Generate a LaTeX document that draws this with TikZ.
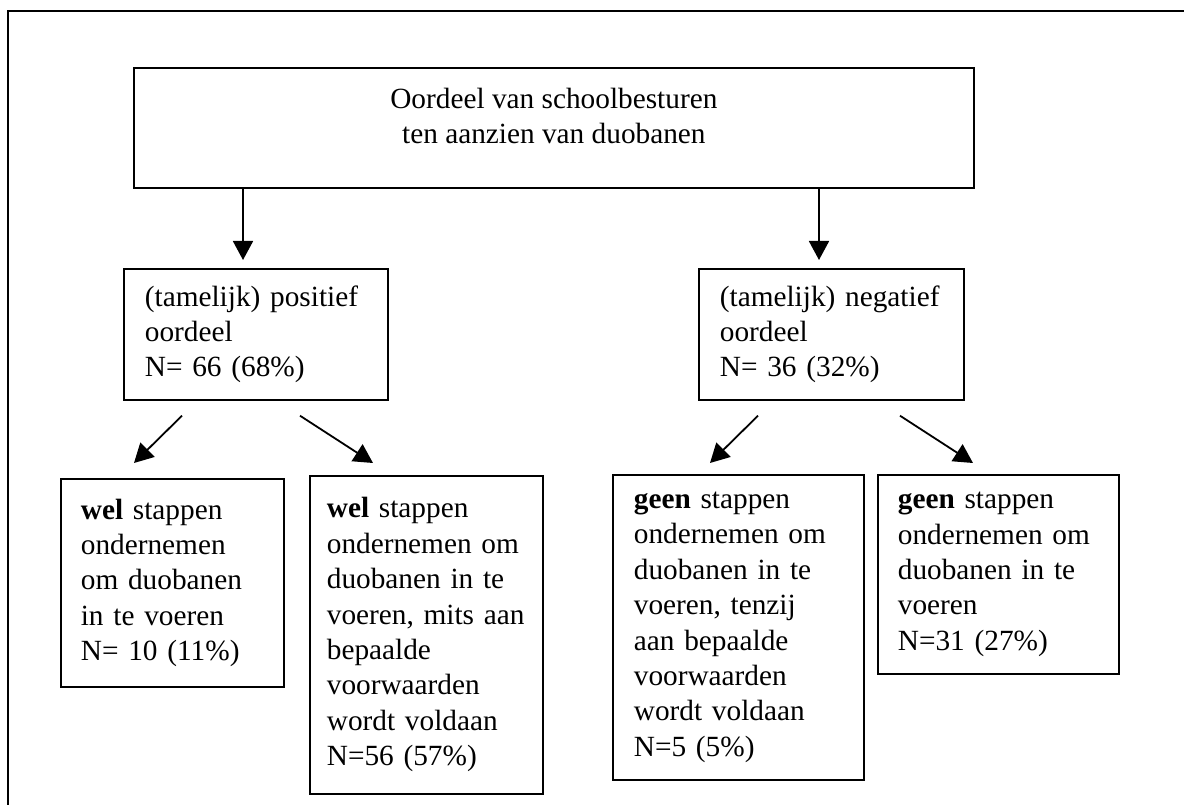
\documentclass[tikz,border=0pt]{standalone}
\usepackage{fontspec}
\setmainfont{Liberation Serif}
\usetikzlibrary{arrows.meta, positioning}

\begin{document}
\begin{tikzpicture}[x=1pt, y=-1pt,
    every node/.style={font=\fontsize{29.3}{35.4}\selectfont},
    box/.style={draw, line width=1.7pt, anchor=north west, align=left, inner ysep=0pt},
    arr/.style={line width=1.8pt, -{Triangle[length=19pt,width=20pt]}}]
    \useasboundingbox (0,0) rectangle (1184,805);
    % Page frame
    \draw[line width=2pt] (8,805) |- (1184,11);
    % Question
    \node[box, align=center, minimum width=840pt, minimum height=120pt] (oordeel) at (133,67)
        {Oordeel van schoolbesturen\\ ten aanzien van duobanen\rule[-24pt]{0pt}{24pt}};
    % Judgement
    \node[box, text width=222pt, inner xsep=21pt, minimum height=131pt] (pos) at (123,268)
        {(tamelijk) positief\\ oordeel\\ N= 66 (68\%)};
    \node[box, text width=223pt, inner xsep=21pt, minimum height=131pt] (neg) at (698,268)
        {(tamelijk) negatief\\ oordeel\\ N= 36 (32\%)};
    % Steps
    \node[box, text width=183pt, inner xsep=20pt, minimum height=208pt] (welA) at (60,478)
        {\textbf{wel} stappen\\ ondernemen\\ om duobanen\\ in te voeren\\ N= 10 (11\%)};
    \node[box, text width=199pt, inner xsep=17pt, minimum height=318pt] (welB) at (309,475)
        {\textbf{wel} stappen\\ ondernemen om\\ duobanen in te\\ \mbox{voeren, mits aan}\\ bepaalde\\ voorwaarden\\ wordt voldaan\\ N=56 (57\%)};
    \node[box, text width=209pt, inner xsep=21pt, minimum height=305pt] (geenA) at (612,474)
        {\textbf{geen} stappen\\ ondernemen om\\ duobanen in te\\ voeren, tenzij\\ aan bepaalde\\ voorwaarden\\ wordt voldaan\\ N=5 (5\%)};
    \node[box, text width=201pt, inner xsep=20pt, minimum height=199pt] (geenB) at (877,474)
        {\textbf{geen} stappen\\ ondernemen om\\ duobanen in te\\ voeren\\ N=31 (27\%)};
    % Arrows
    \draw[arr] ([xshift=110pt]oordeel.south west) -- ([xshift=120pt,yshift=8pt]pos.north west);
    \draw[arr] ([xshift=686pt]oordeel.south west) -- ([xshift=121pt,yshift=8pt]neg.north west);
    \draw[arr] ([xshift=59pt,yshift=-15pt]pos.south west) -- ([xshift=74pt,yshift=15pt]welA.north west);
    \draw[arr] ([xshift=177pt,yshift=-15pt]pos.south west) -- ([xshift=64pt,yshift=12pt]welB.north west);
    \draw[arr] ([xshift=60pt,yshift=-15pt]neg.south west) -- ([xshift=98pt,yshift=11pt]geenA.north west);
    \draw[arr] ([xshift=202pt,yshift=-15pt]neg.south west) -- ([xshift=96pt,yshift=11pt]geenB.north west);
\end{tikzpicture}
\end{document}
